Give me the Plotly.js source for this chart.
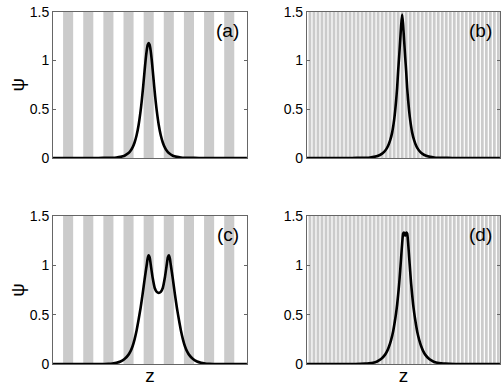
<!DOCTYPE html>
<html>
<head>
<meta charset="utf-8">
<script src="https://cdn.plot.ly/plotly-3.0.1.min.js"></script>
<style>
  html, body { margin: 0; padding: 0; background: #fff; }
  #plot { width: 504px; height: 391px; }
</style>
</head>
<body>
<div id="plot"></div>
<script>
// lattice stripes (gray layers), z in units of the coarse period
const coarseStripes = [-4, -3, -2, -1, 0, 1, 2, 3, 4];
const fineStripes = [-4.6, -4.4, -4.2, -4.0, -3.8, -3.6, -3.4, -3.2, -3.0, -2.8, -2.6, -2.4,
  -2.2, -2.0, -1.8, -1.6, -1.4, -1.2, -1.0, -0.8, -0.6, -0.4, -0.2, 0.0, 0.2, 0.4, 0.6, 0.8,
  1.0, 1.2, 1.4, 1.6, 1.8, 2.0, 2.2, 2.4, 2.6, 2.8, 3.0, 3.2, 3.4, 3.6, 3.8, 4.0, 4.2, 4.4,
  4.6, 4.8];

// (a) and (b): single peaks
const zAB = [-4.75, -2.5, -2.0, -1.8, -1.6, -1.4, -1.2, -1.0, -0.9, -0.8, -0.7, -0.6, -0.5,
  -0.4, -0.35, -0.3, -0.25, -0.2, -0.15, -0.1, -0.05, 0, 0.05, 0.1, 0.15, 0.2, 0.25, 0.3,
  0.35, 0.4, 0.5, 0.6, 0.7, 0.8, 0.9, 1.0, 1.2, 1.4, 1.6, 1.8, 2.0, 2.5, 4.88];
const psiA = [0, 0.0001, 0.001, 0.002, 0.005, 0.011, 0.023, 0.050, 0.074, 0.109, 0.159, 0.233,
  0.338, 0.485, 0.576, 0.678, 0.787, 0.900, 1.008, 1.098, 1.159, 1.18, 1.159, 1.098, 1.008,
  0.900, 0.787, 0.678, 0.576, 0.485, 0.338, 0.233, 0.159, 0.109, 0.074, 0.050, 0.023, 0.011,
  0.005, 0.002, 0.001, 0.0001, 0];
const psiB = [0, 0.0002, 0.0013, 0.0027, 0.0055, 0.011, 0.022, 0.045, 0.062, 0.088, 0.125,
  0.18, 0.26, 0.39, 0.48, 0.59, 0.72, 0.89, 1.04, 1.20, 1.36, 1.47, 1.36, 1.20, 1.04, 0.89,
  0.72, 0.59, 0.48, 0.39, 0.26, 0.18, 0.125, 0.088, 0.062, 0.045, 0.022, 0.011, 0.0055,
  0.0027, 0.0013, 0.0002, 0];

// (c): two humps
const zC = [-4.75, -2.5, -2.0, -1.8, -1.6, -1.4, -1.2, -1.0, -0.9, -0.8, -0.7, -0.6, -0.5,
  -0.4, -0.3, -0.2, -0.1, -0.05, 0, 0.05, 0.1, 0.2, 0.3, 0.4, 0.5, 0.6, 0.7, 0.8, 0.9, 0.95,
  1.0, 1.05, 1.1, 1.2, 1.3, 1.4, 1.5, 1.6, 1.7, 1.8, 1.9, 2.0, 2.2, 2.4, 2.6, 2.8, 3.0, 3.5,
  4.88];
const psiC = [0, 0.0005, 0.003, 0.006, 0.012, 0.025, 0.05, 0.095, 0.13, 0.18, 0.25, 0.34,
  0.45, 0.57, 0.71, 0.86, 1.00, 1.07, 1.10, 1.08, 1.01, 0.87, 0.77, 0.73, 0.72, 0.73, 0.77,
  0.87, 1.01, 1.08, 1.10, 1.07, 1.00, 0.86, 0.71, 0.57, 0.45, 0.34, 0.25, 0.18, 0.13, 0.095,
  0.05, 0.025, 0.012, 0.006, 0.003, 0.0005, 0];

// (d): flat-topped peak
const zD = [-4.75, -2.35, -1.85, -1.65, -1.45, -1.25, -1.05, -0.85, -0.75, -0.65, -0.55,
  -0.45, -0.35, -0.30, -0.25, -0.20, -0.15, -0.10, -0.05, 0.0, 0.05, 0.09, 0.15, 0.21, 0.25,
  0.30, 0.35, 0.40, 0.45, 0.50, 0.55, 0.60, 0.65, 0.75, 0.85, 0.95, 1.05, 1.15, 1.35, 1.55,
  1.75, 1.95, 2.15, 2.65, 4.88];
const psiD = [0, 0.0005, 0.0035, 0.007, 0.013, 0.026, 0.05, 0.095, 0.13, 0.18, 0.245, 0.33,
  0.45, 0.52, 0.60, 0.70, 0.81, 0.94, 1.08, 1.22, 1.32, 1.33, 1.30, 1.33, 1.32, 1.22, 1.08,
  0.94, 0.81, 0.70, 0.60, 0.52, 0.45, 0.33, 0.245, 0.18, 0.13, 0.095, 0.05, 0.026, 0.013,
  0.007, 0.0035, 0.0005, 0];

const panelLabels = ['(a)', '(b)', '(c)', '(d)'];
const yTickVals = [0, 0.5, 1, 1.5];
const yTickText = ['0', '0.5', '1', '1.5'];

const stripeGray = '#cbcbcb';
const font = 'Liberation Sans, Arial, sans-serif';

const panels = [
  { stripes: coarseStripes, w: 0.5, z: zAB, psi: psiA },
  { stripes: fineStripes, w: 0.14, z: zAB, psi: psiB },
  { stripes: coarseStripes, w: 0.5, z: zC, psi: psiC },
  { stripes: fineStripes, w: 0.14, z: zD, psi: psiD },
];

const data = [];
panels.forEach((p, i) => {
  const sfx = i === 0 ? '' : String(i + 1);
  data.push({
    type: 'bar',
    x: p.stripes,
    y: p.stripes.map(() => 1.5),
    width: p.w,
    marker: { color: stripeGray, line: { width: 0 } },
    hoverinfo: 'skip',
    xaxis: 'x' + sfx,
    yaxis: 'y' + sfx,
  });
  data.push({
    type: 'scatter',
    mode: 'lines',
    x: p.z,
    y: p.psi,
    line: { color: '#000', width: 2.6, shape: 'spline', smoothing: 0.6 },
    xaxis: 'x' + sfx,
    yaxis: 'y' + sfx,
  });
});

const xDomains = [[0.1052, 0.490], [0.609, 0.992]];
const yDomains = [[0.596, 0.970], [0.069, 0.448]];

const layout = {
  width: 504,
  height: 391,
  margin: { l: 0, r: 0, t: 0, b: 0 },
  paper_bgcolor: '#fff',
  plot_bgcolor: '#fff',
  showlegend: false,
  barmode: 'overlay',
  font: { family: font, size: 14, color: '#000' },
  annotations: [],
};

panels.forEach((p, i) => {
  const sfx = i === 0 ? '' : String(i + 1);
  const col = i % 2;
  const row = Math.floor(i / 2);
  layout['xaxis' + sfx] = {
    domain: xDomains[col],
    anchor: 'y' + sfx,
    range: [-4.75, 4.88],
    showticklabels: false,
    ticks: '',
    showgrid: false,
    zeroline: false,
    showline: true,
    mirror: true,
    linecolor: '#666',
    linewidth: 1,
    title: row === 1 ? { text: 'z', font: { size: 19 }, standoff: 4 } : { text: '' },
  };
  layout['yaxis' + sfx] = {
    domain: yDomains[row],
    anchor: 'x' + sfx,
    range: [0, 1.5],
    tickvals: yTickVals,
    ticktext: yTickText,
    ticks: 'inside',
    ticklen: 3,
    tickcolor: '#666',
    showgrid: false,
    zeroline: false,
    showline: true,
    mirror: 'ticks',
    linecolor: '#666',
    linewidth: 1,
    title: col === 0 ? { text: 'ψ', font: { size: 19 }, standoff: 0 } : { text: '' },
  };
  layout.annotations.push({
    text: panelLabels[i],
    xref: 'x' + sfx + ' domain',
    yref: 'y' + sfx + ' domain',
    x: 1, y: 1,
    xanchor: 'right', yanchor: 'top',
    xshift: -6, yshift: -6,
    showarrow: false,
    font: { size: 19, color: '#000' },
  });
});

Plotly.newPlot('plot', data, layout, { staticPlot: true });
</script>
</body>
</html>
